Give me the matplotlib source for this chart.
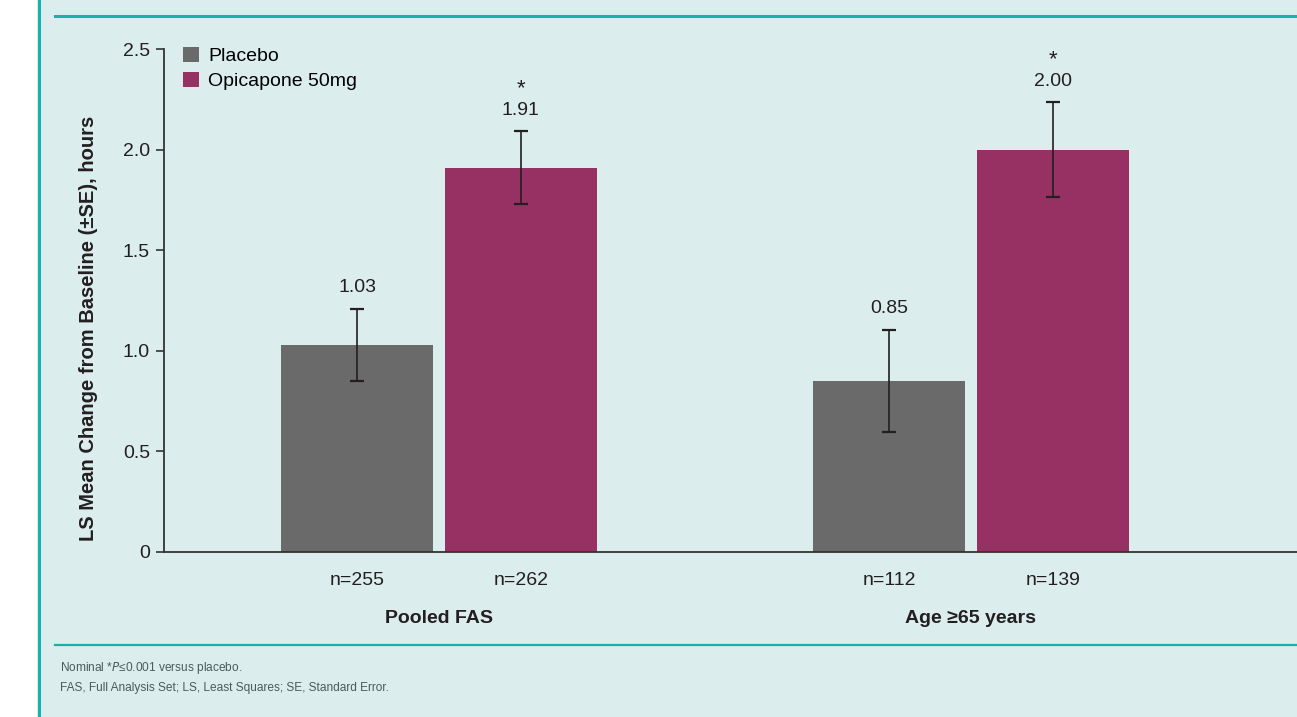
import matplotlib
matplotlib.use("Agg")
import matplotlib.pyplot as plt
from matplotlib.lines import Line2D
from matplotlib.patches import Rectangle
import numpy as np

groups = ["Pooled FAS", "Age \u226565 years"]
series = ["Placebo", "Opicapone 50mg"]
placebo_mean = [1.03, 0.85]
placebo_se = [0.18, 0.255]
opicapone_mean = [1.91, 2.00]
opicapone_se = [0.18, 0.235]
placebo_n = ["n=255", "n=112"]
opicapone_n = ["n=262", "n=139"]
significant = [True, True]

plt.rcParams["font.family"] = ["Liberation Sans", "DejaVu Sans"]

bg = "#dcedee"
teal = "#17b3ab"
grey = "#6a6a6a"
plum = "#973063"
ink = "#231f20"

fig = plt.figure(figsize=(12.97, 7.17), dpi=100)
fig.patch.set_facecolor("white")
fig.patches.append(Rectangle((37 / 1297, 0), 1, 1, transform=fig.transFigure,
                             facecolor=bg, edgecolor="none", zorder=-5))
fig.add_artist(Line2D([38.5 / 1297, 38.5 / 1297], [0, 1], color=teal, lw=2.2))
fig.add_artist(Line2D([55 / 1297, 1], [1 - 16 / 717, 1 - 16 / 717], color=teal, lw=2.2))
fig.add_artist(Line2D([55 / 1297, 1], [1 - 645 / 717, 1 - 645 / 717], color=teal, lw=1.6))

ax = fig.add_axes([164 / 1297, 1 - 552 / 717, 1 - 164 / 1297, (552 - 49) / 717])
ax.set_facecolor("none")

x = np.arange(len(groups))
w = 0.2857
off = 0.154
err_kw = dict(ecolor=ink, elinewidth=1.2, capsize=5, capthick=1.6)
ax.bar(x - off, placebo_mean, w, yerr=placebo_se, color=grey, label=series[0],
       error_kw=err_kw)
ax.bar(x + off, opicapone_mean, w, yerr=opicapone_se, color=plum, label=series[1],
       error_kw=err_kw)

for i in range(len(groups)):
    ax.annotate(f"{placebo_mean[i]:.2f}", (x[i] - off, placebo_mean[i] + placebo_se[i]),
                xytext=(0, 9), textcoords="offset points", ha="center", va="bottom",
                fontsize=14, color=ink)
    ax.annotate(f"{opicapone_mean[i]:.2f}", (x[i] + off, opicapone_mean[i] + opicapone_se[i]),
                xytext=(0, 9), textcoords="offset points", ha="center", va="bottom",
                fontsize=14, color=ink)
    if significant[i]:
        ax.annotate("*", (x[i] + off, opicapone_mean[i] + opicapone_se[i]),
                    xytext=(0, 23), textcoords="offset points", ha="center", va="bottom",
                    fontsize=16, color=ink)
    ax.text(x[i] - off, -0.14, placebo_n[i], ha="center", va="center", fontsize=14, color=ink)
    ax.text(x[i] + off, -0.14, opicapone_n[i], ha="center", va="center", fontsize=14, color=ink)
    ax.text(x[i], -0.33, groups[i], ha="center", va="center", fontsize=14,
            fontweight="bold", color=ink)

ax.set_xlim(-0.517, 1.613)
ax.set_ylim(0, 2.5)
ax.set_yticks([0, 0.5, 1.0, 1.5, 2.0, 2.5])
ax.set_yticklabels(["0", "0.5", "1.0", "1.5", "2.0", "2.5"])
ax.set_xticks([])
for s in ["top", "right"]:
    ax.spines[s].set_visible(False)
for s in ["left", "bottom"]:
    ax.spines[s].set_color("#333333")
    ax.spines[s].set_linewidth(1.3)
ax.tick_params(axis="y", length=6, width=1.2, color="#333333", labelsize=14,
               labelcolor=ink, pad=4)
ax.set_ylabel("LS Mean Change from Baseline (\u00b1SE), hours", fontsize=14.5,
              fontweight="bold", color=ink)
ax.yaxis.set_label_coords(-0.058, 0.445)

ax.legend(loc="upper left", bbox_to_anchor=(0.01, 1.02), frameon=False, fontsize=14,
          handlelength=0.8, handleheight=0.8, handletextpad=0.5, labelspacing=0.35,
          borderaxespad=0)

fig.text(60 / 1297, 1 - 668 / 717, "Nominal *$\\mathit{P}$\u22640.001 versus placebo.",
         fontsize=8.6, color="#4b5b5c", va="center")
fig.text(60 / 1297, 1 - 688 / 717, "FAS, Full Analysis Set; LS, Least Squares; SE, Standard Error.",
         fontsize=8.6, color="#4b5b5c", va="center")

fig.savefig("out.png", dpi=100, facecolor=fig.get_facecolor())
